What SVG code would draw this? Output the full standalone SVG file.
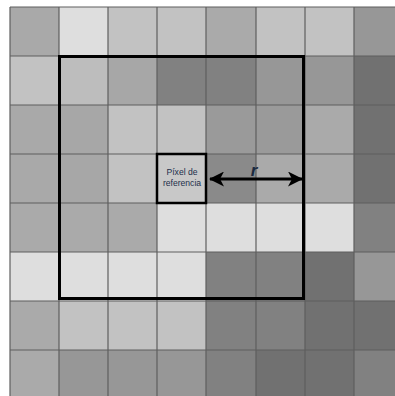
<svg xmlns="http://www.w3.org/2000/svg" width="395" height="396" viewBox="0 0 395 396">
<style>
.g line{stroke:#5e5e5e;stroke-width:1.2}
.lbl{font-family:"Liberation Sans",Arial,sans-serif;font-size:8.6px;fill:#1c2f4a;text-anchor:middle}
.r{font-family:"Liberation Sans",Arial,sans-serif;font-size:17px;font-style:italic;font-weight:bold;fill:#1a2a40;text-anchor:middle}
</style>
<defs>
<marker id="ah" markerWidth="15" markerHeight="15" refX="14" refY="7.5" orient="auto-start-reverse" markerUnits="userSpaceOnUse">
<path d="M0,0 L15,7.5 L0,15 L4,7.5 Z" fill="#000"/>
</marker>
</defs>
<rect width="395" height="396" fill="#fff"/>
<g id="cells">
<rect x="10" y="7" width="49" height="49" fill="#a9a9a9"/>
<rect x="59" y="7" width="49" height="49" fill="#dedede"/>
<rect x="108" y="7" width="49" height="49" fill="#c2c2c2"/>
<rect x="157" y="7" width="49" height="49" fill="#c2c2c2"/>
<rect x="206" y="7" width="50" height="49" fill="#aaaaaa"/>
<rect x="256" y="7" width="49" height="49" fill="#c2c2c2"/>
<rect x="305" y="7" width="49" height="49" fill="#c2c2c2"/>
<rect x="354" y="7" width="41" height="49" fill="#979797"/>
<rect x="10" y="56" width="49" height="49" fill="#c2c2c2"/>
<rect x="59" y="56" width="49" height="49" fill="#bdbdbd"/>
<rect x="108" y="56" width="49" height="49" fill="#a7a7a7"/>
<rect x="157" y="56" width="49" height="49" fill="#818181"/>
<rect x="206" y="56" width="50" height="49" fill="#818181"/>
<rect x="256" y="56" width="49" height="49" fill="#979797"/>
<rect x="305" y="56" width="49" height="49" fill="#979797"/>
<rect x="354" y="56" width="41" height="49" fill="#717171"/>
<rect x="10" y="105" width="49" height="49" fill="#a9a9a9"/>
<rect x="59" y="105" width="49" height="49" fill="#a7a7a7"/>
<rect x="108" y="105" width="49" height="49" fill="#c2c2c2"/>
<rect x="157" y="105" width="49" height="49" fill="#c2c2c2"/>
<rect x="206" y="105" width="50" height="49" fill="#9a9a9a"/>
<rect x="256" y="105" width="49" height="49" fill="#9a9a9a"/>
<rect x="305" y="105" width="49" height="49" fill="#aaaaaa"/>
<rect x="354" y="105" width="41" height="49" fill="#717171"/>
<rect x="10" y="154" width="49" height="49" fill="#a9a9a9"/>
<rect x="59" y="154" width="49" height="49" fill="#a7a7a7"/>
<rect x="108" y="154" width="49" height="49" fill="#c2c2c2"/>
<rect x="157" y="154" width="49" height="49" fill="#c8c8c8"/>
<rect x="206" y="154" width="50" height="49" fill="#8a8a8a"/>
<rect x="256" y="154" width="49" height="49" fill="#aaaaaa"/>
<rect x="305" y="154" width="49" height="49" fill="#aaaaaa"/>
<rect x="354" y="154" width="41" height="49" fill="#717171"/>
<rect x="10" y="203" width="49" height="49" fill="#aaaaaa"/>
<rect x="59" y="203" width="49" height="49" fill="#aaaaaa"/>
<rect x="108" y="203" width="49" height="49" fill="#aaaaaa"/>
<rect x="157" y="203" width="49" height="49" fill="#dedede"/>
<rect x="206" y="203" width="50" height="49" fill="#dedede"/>
<rect x="256" y="203" width="49" height="49" fill="#dedede"/>
<rect x="305" y="203" width="49" height="49" fill="#dedede"/>
<rect x="354" y="203" width="41" height="49" fill="#818181"/>
<rect x="10" y="252" width="49" height="49" fill="#dedede"/>
<rect x="59" y="252" width="49" height="49" fill="#dedede"/>
<rect x="108" y="252" width="49" height="49" fill="#dedede"/>
<rect x="157" y="252" width="49" height="49" fill="#dedede"/>
<rect x="206" y="252" width="50" height="49" fill="#818181"/>
<rect x="256" y="252" width="49" height="49" fill="#818181"/>
<rect x="305" y="252" width="49" height="49" fill="#717171"/>
<rect x="354" y="252" width="41" height="49" fill="#979797"/>
<rect x="10" y="301" width="49" height="49" fill="#aaaaaa"/>
<rect x="59" y="301" width="49" height="49" fill="#c2c2c2"/>
<rect x="108" y="301" width="49" height="49" fill="#c2c2c2"/>
<rect x="157" y="301" width="49" height="49" fill="#c2c2c2"/>
<rect x="206" y="301" width="50" height="49" fill="#818181"/>
<rect x="256" y="301" width="49" height="49" fill="#818181"/>
<rect x="305" y="301" width="49" height="49" fill="#717171"/>
<rect x="354" y="301" width="41" height="49" fill="#717171"/>
<rect x="10" y="350" width="49" height="46" fill="#aaaaaa"/>
<rect x="59" y="350" width="49" height="46" fill="#979797"/>
<rect x="108" y="350" width="49" height="46" fill="#979797"/>
<rect x="157" y="350" width="49" height="46" fill="#979797"/>
<rect x="206" y="350" width="50" height="46" fill="#818181"/>
<rect x="256" y="350" width="49" height="46" fill="#717171"/>
<rect x="305" y="350" width="49" height="46" fill="#717171"/>
<rect x="354" y="350" width="41" height="46" fill="#818181"/>
</g>
<g id="grid" class="g">
<line x1="10" y1="7" x2="10" y2="396"/>
<line x1="59" y1="7" x2="59" y2="396"/>
<line x1="108" y1="7" x2="108" y2="396"/>
<line x1="157" y1="7" x2="157" y2="396"/>
<line x1="206" y1="7" x2="206" y2="396"/>
<line x1="256" y1="7" x2="256" y2="396"/>
<line x1="305" y1="7" x2="305" y2="396"/>
<line x1="354" y1="7" x2="354" y2="396"/>
<line x1="10" y1="7" x2="395" y2="7"/>
<line x1="10" y1="56" x2="395" y2="56"/>
<line x1="10" y1="105" x2="395" y2="105"/>
<line x1="10" y1="154" x2="395" y2="154"/>
<line x1="10" y1="203" x2="395" y2="203"/>
<line x1="10" y1="252" x2="395" y2="252"/>
<line x1="10" y1="301" x2="395" y2="301"/>
<line x1="10" y1="350" x2="395" y2="350"/>
</g>
<g id="window">
<rect x="59.5" y="56.5" width="244" height="242" fill="none" stroke="#000" stroke-width="3"/>
</g>
<g id="ref-pixel">
<rect x="157" y="154" width="49" height="49" fill="#c8c8c8" stroke="#000" stroke-width="2.5"/>
<text class="lbl" x="182" y="175">Píxel de</text>
<text class="lbl" x="182" y="186">referencia</text>
</g>
<g id="connectors">
<line x1="210" y1="179" x2="302" y2="179" stroke="#000" stroke-width="3" marker-start="url(#ah)" marker-end="url(#ah)"/>
<text class="r" x="254" y="176">r</text>
</g>
</svg>
